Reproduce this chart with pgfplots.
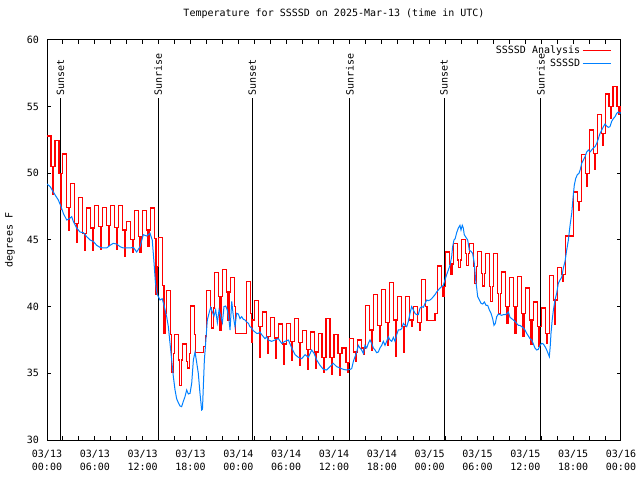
\documentclass[border=0pt]{standalone}
\usepackage{fontspec}
\setmainfont{DejaVu Sans Mono}
\usepackage{pgfplots}
\pgfplotsset{compat=1.18}
\definecolor{myred}{RGB}{255,0,0}
\definecolor{myblue}{RGB}{0,128,255}
\newcommand{\gfont}{\fontsize{10bp}{13bp}\selectfont}
\pgfplotsset{mylegend/.style={legend image code/.code={\draw[##1] (0bp,0bp) -- (28bp,0bp);}}}
\begin{document}
\begin{tikzpicture}
\begin{axis}[
  at={(47bp,40bp)}, anchor=south west,
  scale only axis, width=574bp, height=400bp,
  xmin=0, xmax=72, ymin=30, ymax=60,
  axis line style={line width=1bp, black},
  tick style={line width=1bp, black},
  tick align=inside,
  major tick length=4bp, minor tick length=4bp,
  xtick={0,6,...,72},
  minor xtick={0,2,...,72},
  ytick={30,35,...,60},
  xticklabels={{03/13\\00:00},{03/13\\06:00},{03/13\\12:00},{03/13\\18:00},{03/14\\00:00},{03/14\\06:00},{03/14\\12:00},{03/14\\18:00},{03/15\\00:00},{03/15\\06:00},{03/15\\12:00},{03/15\\18:00},{03/16\\00:00}},
  xticklabel style={align=center, inner sep=0pt, yshift=-10bp, font=\gfont},
  yticklabel style={inner sep=0pt, xshift=-8bp, font=\gfont},
  /pgf/number format/assume math mode=true,
  scaled ticks=false,
  title={Temperature for SSSSD on 2025-Mar-13 (time in UTC)},
  title style={at={(axis description cs:0.5,1.05)}, anchor=center, yshift=0pt, font=\gfont, inner sep=0pt},
  ylabel={degrees F},
  ylabel style={at={(axis description cs:-0.0645,0.5)}, anchor=center, font=\gfont, inner sep=0pt},
  legend plot pos=right,
  legend cell align=right,
  legend style={at={(axis description cs:0.9834,0.99)}, anchor=north east, draw=none, fill=none,
    inner sep=0pt, row sep=0pt, nodes={inner sep=2bp}, font=\gfont,
    /tikz/every even column/.append style={column sep=7bp}},
]
% sunrise / sunset lines
\addplot[black, line width=1bp, forget plot] coordinates {(1.7,30) (1.7,55.65)};
\addplot[black, line width=1bp, forget plot] coordinates {(13.95,30) (13.95,55.65)};
\addplot[black, line width=1bp, forget plot] coordinates {(25.75,30) (25.75,55.65)};
\addplot[black, line width=1bp, forget plot] coordinates {(38.0,30) (38.0,55.65)};
\addplot[black, line width=1bp, forget plot] coordinates {(49.8,30) (49.8,55.65)};
\addplot[black, line width=1bp, forget plot] coordinates {(61.95,30) (61.95,55.65)};
\node[rotate=90, anchor=west, inner sep=0pt, font=\gfont] at (axis cs:1.7,55.85) {Sunset};
\node[rotate=90, anchor=west, inner sep=0pt, font=\gfont] at (axis cs:13.95,55.85) {Sunrise};
\node[rotate=90, anchor=west, inner sep=0pt, font=\gfont] at (axis cs:25.75,55.85) {Sunset};
\node[rotate=90, anchor=west, inner sep=0pt, font=\gfont] at (axis cs:38.0,55.85) {Sunrise};
\node[rotate=90, anchor=west, inner sep=0pt, font=\gfont] at (axis cs:49.8,55.85) {Sunset};
\node[rotate=90, anchor=west, inner sep=0pt, font=\gfont] at (axis cs:61.95,55.85) {Sunrise};
% analysis (red)
\addplot[myred, line width=1.1bp, const plot, mylegend] coordinates {
(0,52.8) (0.5,50.5) (0.67,48.4) (0.83,50.5)
(1,52.45) (1.5,50.0) (1.67,47.3) (1.83,50.0)
(2,51.45) (2.5,47.45) (2.67,45.75) (2.83,47.45)
(3,49.25) (3.5,46.25) (3.67,44.8) (3.83,46.25)
(4,48.2) (4.5,45.5) (4.67,44.2) (4.83,45.5)
(5,47.4) (5.5,45.9) (5.67,44.25) (5.83,45.9)
(6,47.6) (6.5,46.0) (6.67,44.3) (6.83,46.0)
(7,47.45) (7.5,46.1) (7.67,44.6) (7.83,46.1)
(8,47.6) (8.5,45.95) (8.67,44.3) (8.83,45.95)
(9,47.6) (9.5,45.75) (9.67,43.75) (9.83,45.75)
(10,46.4) (10.5,45.05) (10.67,44.1) (10.83,45.05)
(11,47.2) (11.5,45.25) (11.67,44.1) (11.83,45.25)
(12,47.2) (12.5,45.75) (12.67,44.5) (12.83,45.75)
(13,47.4) (13.5,45.1) (13.67,40.9) (13.83,43.0)
(14,45.2) (14.5,41.6) (14.67,38.0) (14.83,39.5)
(15,41.2) (15.5,37.9) (15.67,35.1) (15.83,36.5)
(16,37.9) (16.5,36.0) (16.67,34.1) (16.83,36.0)
(17,37.2) (17.5,35.9) (17.67,35.4) (17.83,36.5)
(18,40.05) (18.5,37.9) (18.67,36.55) (18.83,36.55)
(19,36.55) (19.5,36.55) (19.67,37.0) (19.83,37.8)
(20,41.2) (20.5,39.9) (20.67,38.4) (20.83,39.9)
(21,42.55) (21.5,40.75) (21.67,38.25) (21.83,40.75)
(22,42.8) (22.5,41.1) (22.67,39.0) (22.83,41.1)
(23,42.2) (23.5,40.0) (23.67,38.0) (23.83,38.0)
(24,38.0) (24.5,38.0) (24.67,38.0) (24.83,38.0)
(25,41.9) (25.5,39.5) (25.67,37.3) (25.83,39.0)
(26,40.45) (26.5,38.5) (26.67,36.2) (26.83,38.5)
(27,39.6) (27.5,37.75) (27.67,36.5) (27.83,37.75)
(28,39.2) (28.5,37.65) (28.67,36.15) (28.83,37.65)
(29,38.7) (29.5,37.2) (29.67,35.7) (29.83,37.2)
(30,38.75) (30.5,37.4) (30.67,36.0) (30.83,37.4)
(31,39.1) (31.5,37.3) (31.67,35.6) (31.83,37.3)
(32,38.2) (32.5,36.8) (32.67,35.3) (32.83,36.8)
(33,38.1) (33.5,36.6) (33.67,35.4) (33.83,36.6)
(34,38.0) (34.5,36.2) (34.67,35.05) (34.83,36.2)
(35,39.1) (35.5,36.2) (35.67,34.95) (35.83,36.2)
(36,37.9) (36.5,36.5) (36.67,34.85) (36.83,36.5)
(37,36.9) (37.5,35.8) (37.67,35.05) (37.83,35.8)
(38,37.6) (38.5,36.6) (38.67,35.9) (38.83,36.6)
(39,37.5) (39.5,36.9) (39.67,36.4) (39.83,36.9)
(40,40.1) (40.5,38.25) (40.67,36.75) (40.83,38.25)
(41,40.9) (41.5,38.6) (41.67,37.4) (41.83,38.6)
(42,41.3) (42.5,38.8) (42.67,37.1) (42.83,38.8)
(43,41.8) (43.5,39.0) (43.67,36.25) (43.83,39.0)
(44,40.75) (44.5,38.5) (44.67,36.6) (44.83,38.5)
(45,40.75) (45.5,39.0) (45.67,38.5) (45.83,39.0)
(46,40.0) (46.5,38.8) (46.67,38.25) (46.83,38.8)
(47,42.05) (47.5,40.0) (47.67,38.95) (47.83,38.95)
(48,38.95) (48.5,38.95) (48.67,39.5) (48.83,39.5)
(49,43.05) (49.5,41.5) (49.67,40.75) (49.83,41.5)
(50,44.1) (50.5,43.2) (50.67,42.4) (50.83,43.2)
(51,44.75) (51.5,43.5) (51.67,42.95) (51.83,43.5)
(52,45.05) (52.5,44.0) (52.67,43.1) (52.83,44.0)
(53,44.75) (53.5,43.0) (53.67,41.75) (53.83,43.0)
(54,44.15) (54.5,42.5) (54.67,41.55) (54.83,42.5)
(55,44.0) (55.5,41.5) (55.67,40.4) (55.83,41.5)
(56,44.0) (56.5,41.0) (56.67,39.5) (56.83,41.0)
(57,42.6) (57.5,40.0) (57.67,38.75) (57.83,40.0)
(58,42.2) (58.5,40.0) (58.67,38.0) (58.83,40.0)
(59,42.25) (59.5,39.5) (59.67,37.75) (59.83,39.5)
(60,41.4) (60.5,39.0) (60.67,37.2) (60.83,39.0)
(61,40.35) (61.5,38.5) (61.67,37.0) (61.83,38.5)
(62,39.9) (62.5,38.0) (62.67,37.25) (62.83,38.0)
(63,42.35) (63.5,40.5) (63.67,38.7) (63.83,40.5)
(64,42.95) (64.5,42.4) (64.67,41.9) (64.83,42.4)
(65,45.3) (65.5,45.3) (65.67,45.3) (65.83,45.3)
(66,48.6) (66.5,47.9) (66.67,47.2) (66.83,47.9)
(67,51.4) (67.5,50.0) (67.67,49.0) (67.83,50.0)
(68,53.25) (68.5,51.5) (68.67,50.3) (68.83,51.5)
(69,54.4) (69.5,53.0) (69.67,52.1) (69.83,53.0)
(70,55.95) (70.5,55.0) (70.67,54.1) (70.83,55.0)
(71,56.5) (71.5,55.0) (71.67,54.4) (71.83,55.0)
(72,54.6)
};
\addlegendentry{SSSSD Analysis}
% observed (blue)
\addplot[myblue, line width=1bp, mylegend] coordinates {
(0,49.2) (0.4,49.0) (0.79,48.6) (1.1,48.3) (1.42,48.0) (1.7,47.6) (2.05,47.0) (2.47,46.5)
(2.8,46.6) (3.1,46.75) (3.3,46.4) (3.72,45.9) (4.14,45.6) (4.56,45.55) (4.98,45.25) (5.4,45.0)
(5.8,44.9) (6.23,44.6) (6.65,44.45) (7.07,44.4) (7.49,44.4) (7.9,44.6) (8.32,44.75) (8.74,44.7)
(9.16,44.5) (9.58,44.4) (10.0,44.4) (10.41,44.4) (10.83,44.45) (11.25,44.1) (11.67,44.5) (12.08,45.4)
(12.5,45.3) (12.92,45.5) (13.2,45.0) (13.4,43.5) (13.6,41.8) (13.8,41.0) (14.0,40.7) (14.18,40.5)
(14.45,40.6) (14.68,40.1) (15.01,39.25) (15.22,38.5) (15.43,37.25) (15.64,36.0) (15.85,34.75) (16.06,33.75)
(16.26,33.1) (16.47,32.8) (16.68,32.55) (16.89,32.5) (17.1,32.9) (17.31,33.25) (17.52,33.75) (17.73,33.45)
(17.94,33.5) (18.15,34.25) (18.36,36.0) (18.57,36.6) (18.78,35.8) (18.98,35.0) (19.19,33.5) (19.4,32.25)
(19.5,32.3) (19.61,34.0) (19.74,36.0) (19.9,37.25) (20.11,39.0) (20.32,39.5) (20.53,39.95) (20.74,39.6)
(20.95,39.3) (21.16,39.75) (21.37,38.8) (21.58,39.75) (21.79,39.3) (22.0,38.8) (22.2,40.0) (22.41,40.05)
(22.62,39.75) (22.83,39.0) (22.96,38.25) (23.17,40.4) (23.37,39.3) (23.58,38.5) (23.79,39.5) (24.0,39.45)
(24.21,39.1) (24.42,39.25) (24.63,39.05) (24.84,39.0) (25.05,38.85) (25.26,38.75) (25.46,38.5) (25.67,38.4)
(25.88,38.2) (26.09,38.1) (26.3,38.0) (26.51,38.0) (26.72,38.1) (26.93,37.9) (27.14,37.75) (27.35,37.6)
(27.55,37.75) (27.76,37.5) (28.18,37.4) (28.6,37.5) (29.02,37.6) (29.44,37.25) (29.86,37.4) (30.28,37.5)
(30.7,36.9) (31.12,36.4) (31.53,36.2) (31.95,36.1) (32.37,36.4) (32.79,36.2) (33.2,36.75) (33.5,36.5)
(33.83,36.0) (34.25,35.6) (34.66,35.3) (35.08,35.25) (35.5,35.5) (35.92,35.75) (36.34,35.5) (36.76,35.4)
(37.17,35.3) (37.59,35.25) (38.01,35.3) (38.22,35.35) (38.43,35.9) (38.64,36.25) (38.85,36.6) (39.05,37.1)
(39.26,36.9) (39.47,36.75) (39.68,36.5) (39.89,37.1) (40.1,36.9) (40.31,37.25) (40.52,37.5) (40.73,37.25)
(40.94,36.9) (41.15,36.75) (41.35,36.55) (41.56,36.6) (41.77,36.9) (41.98,37.1) (42.19,37.4) (42.4,37.1)
(42.61,37.4) (42.82,37.75) (43.03,37.5) (43.24,37.4) (43.45,37.7) (43.65,37.4) (43.86,37.9) (44.07,38.25)
(44.28,38.25) (44.49,38.35) (44.7,38.75) (44.91,38.6) (45.12,38.5) (45.33,38.9) (45.53,39.5) (45.74,40.0)
(45.95,39.75) (46.16,39.5) (46.37,39.4) (46.58,39.4) (46.79,39.9) (47.0,40.0) (47.21,39.95) (47.42,40.25)
(47.63,40.5) (47.83,40.45) (48.04,40.5) (48.25,40.6) (48.46,40.75) (48.67,40.9) (48.88,41.1) (49.09,41.25)
(49.3,41.4) (49.5,41.5) (49.71,41.6) (49.92,42.0) (50.13,42.4) (50.34,42.75) (50.55,43.1) (50.76,43.75)
(50.88,44.5) (51.05,45.0) (51.2,45.1) (51.39,45.55) (51.6,45.9) (51.8,46.1) (51.93,45.75) (52.09,46.1)
(52.22,45.9) (52.34,45.4) (52.55,45.2) (52.77,45.0) (52.97,44.25) (53.18,44.15) (53.39,44.0) (53.6,43.25)
(53.77,42.0) (53.9,41.4) (54.02,40.75) (54.23,40.5) (54.44,40.25) (54.65,40.2) (54.86,40.35) (55.07,40.1)
(55.28,40.1) (55.49,39.75) (55.7,39.5) (55.9,39.1) (56.07,38.6) (56.24,38.75) (56.41,39.25) (56.62,39.45)
(56.83,39.4) (57.03,39.35) (57.24,39.4) (57.45,39.4) (57.66,39.45) (57.87,39.6) (58.08,39.2) (58.29,39.1)
(58.5,39.0) (58.7,38.9) (58.91,38.75) (59.12,38.6) (59.33,38.6) (59.54,38.5) (59.75,38.4) (59.96,38.25)
(60.17,38.0) (60.38,37.8) (60.59,37.6) (60.8,37.5) (61.01,37.2) (61.21,36.9) (61.42,36.75) (61.63,36.8)
(61.84,37.1) (62.05,37.25) (62.26,37.2) (62.47,37.0) (62.68,36.75) (62.85,36.5) (63.01,36.25) (63.12,37.0)
(63.22,38.0) (63.37,39.0) (63.51,39.7) (63.72,40.5) (63.93,41.0) (64.14,41.75) (64.35,42.0) (64.56,42.2)
(64.77,42.9) (64.98,43.4) (65.19,44.25) (65.4,45.0) (65.61,46.1) (65.82,47.0) (66.02,48.4) (66.14,49.1)
(66.31,49.6) (66.52,49.9) (66.73,50.0) (66.9,50.3) (67.07,50.75) (67.28,51.0) (67.49,51.25) (67.7,51.6)
(67.91,51.75) (68.11,51.6) (68.32,51.75) (68.53,51.9) (68.74,52.0) (68.95,52.25) (69.16,52.6) (69.37,53.0)
(69.58,53.25) (69.79,53.5) (70.0,53.7) (70.2,53.55) (70.41,53.45) (70.62,53.5) (70.83,53.9) (71.04,54.1)
(71.25,54.25) (71.46,54.5) (71.67,54.6) (71.85,54.5) (72.0,54.55)
};
\addlegendentry{SSSSD}
\end{axis}
\pgfresetboundingbox
\path[use as bounding box] (0,0) rectangle (640bp,480bp);
\end{tikzpicture}
\end{document}
